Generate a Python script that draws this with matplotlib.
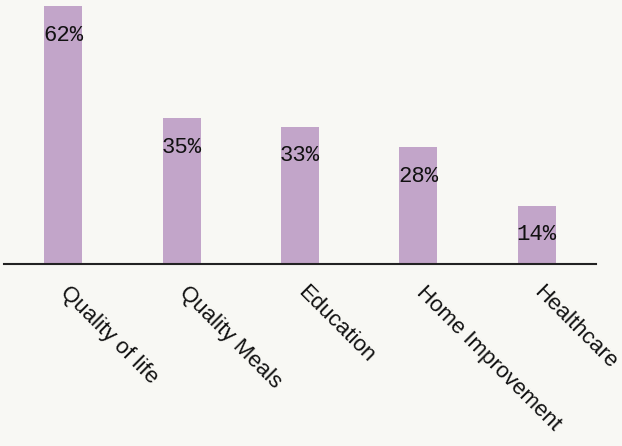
import matplotlib
matplotlib.use("Agg")
import matplotlib.pyplot as plt
from matplotlib.transforms import ScaledTranslation

categories = ["Quality of life", "Quality Meals", "Education", "Home Improvement", "Healthcare"]
values = [62, 35, 33, 28, 14]
labels = ["62%", "35%", "33%", "28%", "14%"]

bg = "#f8f8f4"
bar_color = "#c2a5c9"

fig = plt.figure(figsize=(6.22, 4.46), dpi=100, facecolor=bg)
ax = fig.add_axes([4/622, (446-264)/446, 592/622, 264/446])
ax.set_facecolor(bg)

x = list(range(len(categories)))
bars = ax.bar(x, values, width=0.32, color=bar_color, edgecolor="none")

for xi, v, lab in zip(x, values, labels):
    ax.annotate(lab, (xi, v), xytext=(0, -13.5), textcoords="offset points",
                ha="center", va="top", fontsize=16, family=["Liberation Mono", "DejaVu Sans Mono"],
                color="#111111")

ax.set_xlim(-0.5, 4.5)
ax.set_ylim(0, 63.45)
ax.set_xticks(x)
ax.set_xticklabels(categories, rotation=-45, ha="left", va="top", rotation_mode="anchor",
                   fontsize=16, family=["Liberation Sans", "DejaVu Sans"], color="#111111")
ax.tick_params(axis="x", length=0, pad=13)
offset = ScaledTranslation(8/100, 0, fig.dpi_scale_trans)
for t in ax.get_xticklabels():
    t.set_transform(t.get_transform() + offset)
ax.set_yticks([])
for s in ["top", "right", "left"]:
    ax.spines[s].set_visible(False)
ax.spines["bottom"].set_linewidth(1.5)
ax.spines["bottom"].set_color("#222222")

fig.savefig("out.png", dpi=100, facecolor=bg)
